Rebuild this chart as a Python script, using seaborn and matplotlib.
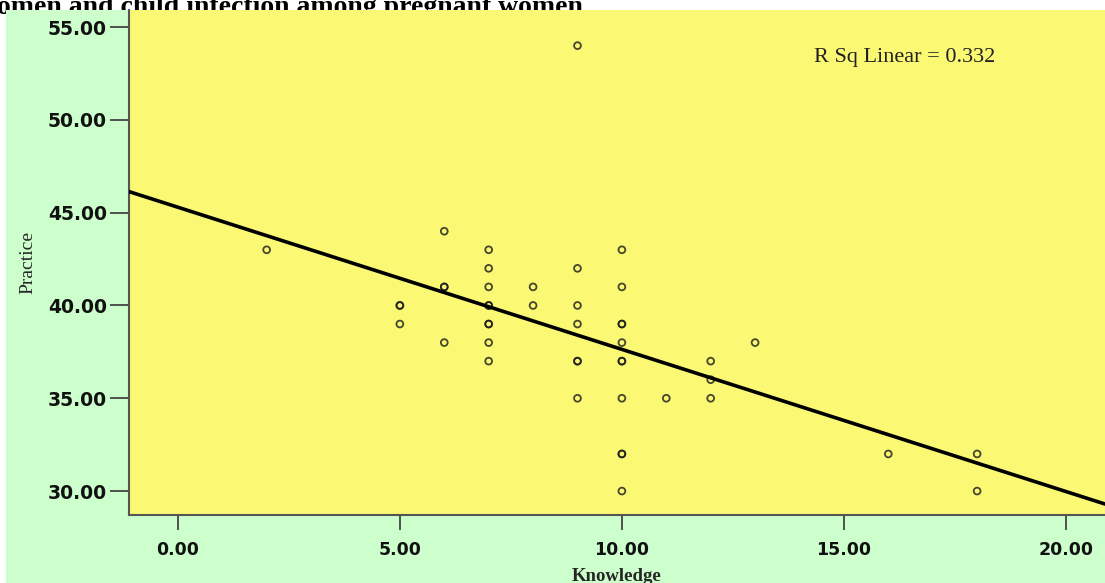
import matplotlib
matplotlib.use("Agg")
import matplotlib.pyplot as plt
import matplotlib.patches as mpatches
import seaborn as sns
import pandas as pd

# Data (duplicates listed twice)
knowledge = [2,
             5, 5, 5,
             6, 6, 6, 6,
             7, 7, 7, 7, 7, 7, 7, 7, 7,
             8, 8,
             9, 9, 9, 9, 9, 9, 9,
             10, 10, 10, 10, 10, 10, 10, 10, 10, 10, 10,
             11,
             12, 12, 12,
             13,
             16,
             18, 18]
practice = [43,
            40, 40, 39,
            44, 41, 41, 38,
            43, 42, 41, 40, 40, 39, 39, 38, 37,
            41, 40,
            54, 42, 40, 39, 37, 37, 35,
            43, 41, 39, 39, 38, 37, 37, 35, 32, 32, 30,
            35,
            37, 36, 35,
            38,
            32,
            32, 30]
x_ticks = [0, 5, 10, 15, 20]
y_ticks = [30, 35, 40, 45, 50, 55]
title_text = "omen and child infection among pregnant women."
rsq_text = "R Sq Linear = 0.332"

df = pd.DataFrame({"Knowledge": knowledge, "Practice": practice})

sns.set_style("white")
plt.rcParams["font.family"] = ["DejaVu Sans"]

W, H = 1105, 583
fig = plt.figure(figsize=(W / 100, H / 100), dpi=100, facecolor="white")

# title (partly hidden by the green panel, as in the reference)
fig.text(-3 / W, 1 - 14 / H, title_text, fontsize=20, fontweight="bold",
         family="Liberation Serif", color="black", zorder=0,
         ha="left", va="baseline")
# green panel
fig.patches.append(mpatches.Rectangle((6 / W, 0), 1, 1 - 10 / H,
                                      transform=fig.transFigure,
                                      facecolor="#ccffcc", edgecolor="none",
                                      zorder=1))

left, right = 129 / W, 1.0
bottom, top = 1 - 515 / H, 1 - 10 / H
ax = fig.add_axes([left, bottom, right - left, top - bottom], zorder=2)
ax.set_facecolor("#fbf873")

ax.set_xlim(-1.1, 20.88)
ax.set_ylim(28.71, 55.92)

sns.scatterplot(data=df, x="Knowledge", y="Practice", ax=ax, marker="o", s=24,
                facecolor="none", edgecolor="#1a1a1a", linewidth=1.3,
                alpha=0.8, zorder=3)
sns.regplot(data=df, x="Knowledge", y="Practice", ax=ax, scatter=False,
            ci=None, truncate=False, color="black",
            line_kws={"linewidth": 2.6, "zorder": 4})

ax.set_xticks(x_ticks)
ax.set_yticks(y_ticks)
ax.set_xticklabels([f"{v:.2f}" for v in x_ticks], fontsize=12.5,
                   fontweight="bold", color="#111111")
ax.set_yticklabels([f"{v:.2f}" for v in y_ticks], fontsize=13.5,
                   fontweight="bold", color="#111111")
ax.tick_params(axis="y", direction="out", length=14, width=1.3,
               color="#444444", pad=2, left=True)
ax.tick_params(axis="x", direction="out", length=11, width=1.3,
               color="#444444", pad=8, bottom=True)

for s in ["top", "right"]:
    ax.spines[s].set_visible(False)
for s in ["left", "bottom"]:
    ax.spines[s].set_color("#555555")
    ax.spines[s].set_linewidth(1.5)

ax.set_xlabel("Knowledge", family="Liberation Serif", fontsize=13.5,
              fontweight="bold", labelpad=6)
ax.set_ylabel("Practice", family="Liberation Serif", fontsize=14,
              labelpad=8)

ax.text(0.702, 0.906, rsq_text, transform=ax.transAxes, family="Liberation Serif",
        fontsize=16, color="#222222", ha="left", va="center")

fig.savefig("out.png", dpi=100, facecolor=fig.get_facecolor())
